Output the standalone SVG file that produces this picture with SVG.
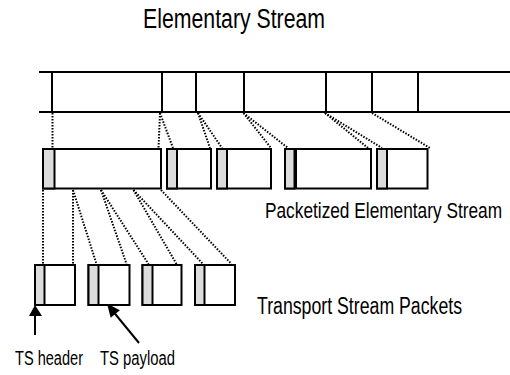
<svg xmlns="http://www.w3.org/2000/svg" width="510" height="375" viewBox="0 0 510 375">
<defs>
<style>
.ln{stroke:#000;stroke-width:2;fill:none}
.box{stroke:#000;stroke-width:2;fill:#fff}
.hdr{stroke:#000;stroke-width:2;fill:#dcdcdc}
.dot{stroke:#000;stroke-width:2;fill:none;stroke-dasharray:1.5 1.5}
.t{font-family:"Liberation Sans",Arial,sans-serif;fill:#000}
.arr{fill:#000;stroke:none}
</style>
</defs>
<rect width="510" height="375" fill="#fff"/>

<text class="t" transform="translate(143,28) scale(0.76,1)" x="0" y="0" font-size="28" textLength="239.6" lengthAdjust="spacingAndGlyphs">Elementary Stream</text>

<g id="es">
<line class="ln" x1="39" y1="72" x2="510" y2="72"/>
<line class="ln" x1="39" y1="112" x2="510" y2="112"/>
<line class="ln" x1="52" y1="72" x2="52" y2="112"/>
<line class="ln" x1="162" y1="72" x2="162" y2="112"/>
<line class="ln" x1="196" y1="72" x2="196" y2="112"/>
<line class="ln" x1="244" y1="72" x2="244" y2="112"/>
<line class="ln" x1="326" y1="72" x2="326" y2="112"/>
<line class="ln" x1="372" y1="72" x2="372" y2="112"/>
<line class="ln" x1="418" y1="72" x2="418" y2="112"/>
</g>

<g id="connectors">
<line class="dot" x1="52.5" y1="113" x2="52.5" y2="148"/>
<line class="dot" x1="160" y1="113" x2="158.5" y2="148"/>
<line class="dot" x1="160" y1="113" x2="173" y2="148"/>
<line class="dot" x1="198" y1="113" x2="210" y2="148"/>
<line class="dot" x1="198" y1="113" x2="222" y2="148"/>
<line class="dot" x1="243.5" y1="113" x2="271" y2="148"/>
<line class="dot" x1="243.5" y1="113" x2="288" y2="148"/>
<line class="dot" x1="325" y1="113" x2="368" y2="148"/>
<line class="dot" x1="325" y1="113" x2="382" y2="148"/>
<line class="dot" x1="372" y1="113" x2="430" y2="148"/>

<line class="dot" x1="43" y1="190" x2="43" y2="264"/>
<line class="dot" x1="73" y1="190" x2="73" y2="264"/>
<line class="dot" x1="73" y1="190" x2="96.5" y2="264"/>
<line class="dot" x1="101" y1="190" x2="126.5" y2="264"/>
<line class="dot" x1="101" y1="190" x2="148.5" y2="264"/>
<line class="dot" x1="133.5" y1="190" x2="176.5" y2="264"/>
<line class="dot" x1="133.5" y1="190" x2="203" y2="264"/>
<line class="dot" x1="161" y1="190" x2="231.5" y2="264"/>

<line class="ln" x1="35" y1="335" x2="35" y2="314"/>
<polygon class="arr" points="35,305 29,316 42,316"/>
<line class="ln" x1="139" y1="343" x2="114" y2="312.5"/>
<polygon class="arr" points="107,303.5 110.7,317.8 119.9,310.2"/>
</g>

<g id="pes1"><rect class="box" x="43" y="149" width="118" height="39.5"/><rect class="hdr" x="43" y="149" width="11.5" height="39.5"/></g>
<g id="pes2"><rect class="box" x="167" y="149" width="44" height="39.5"/><rect class="hdr" x="167" y="149" width="10" height="39.5"/></g>
<g id="pes3"><rect class="box" x="217" y="149" width="54" height="39.5"/><rect class="hdr" x="217" y="149" width="10" height="39.5"/></g>
<g id="pes4"><rect class="box" x="285" y="149" width="86" height="39.5"/><rect class="hdr" x="285" y="149" width="9.5" height="39.5"/><line class="ln" x1="296" y1="149" x2="296" y2="188.5" stroke-width="3.5"/></g>
<g id="pes5"><rect class="box" x="377" y="149" width="50.5" height="39.5"/><rect class="hdr" x="377" y="149" width="10" height="39.5"/></g>

<text class="t" transform="translate(265,218) scale(0.785,1)" x="0" y="0" font-size="22" textLength="302" lengthAdjust="spacingAndGlyphs">Packetized Elementary Stream</text>

<g id="ts1"><rect class="box" x="35" y="265" width="40" height="40"/><rect class="hdr" x="35" y="265" width="9.5" height="40"/></g>
<g id="ts2"><rect class="box" x="88.5" y="265" width="41" height="40"/><rect class="hdr" x="88.5" y="265" width="10" height="40"/></g>
<g id="ts3"><rect class="box" x="142.5" y="265" width="39" height="40"/><rect class="hdr" x="142.5" y="265" width="10" height="40"/></g>
<g id="ts4"><rect class="box" x="195" y="265" width="40" height="40"/><rect class="hdr" x="195" y="265" width="9.5" height="40"/></g>

<text class="t" transform="translate(257,314) scale(0.768,1)" x="0" y="0" font-size="23" textLength="267" lengthAdjust="spacingAndGlyphs">Transport Stream Packets</text>
<text class="t" transform="translate(15,365) scale(0.694,1)" x="0" y="0" font-size="21" textLength="98" lengthAdjust="spacingAndGlyphs">TS header</text>
<text class="t" transform="translate(100,365) scale(0.706,1)" x="0" y="0" font-size="21" textLength="106.2" lengthAdjust="spacingAndGlyphs">TS payload</text>
</svg>
